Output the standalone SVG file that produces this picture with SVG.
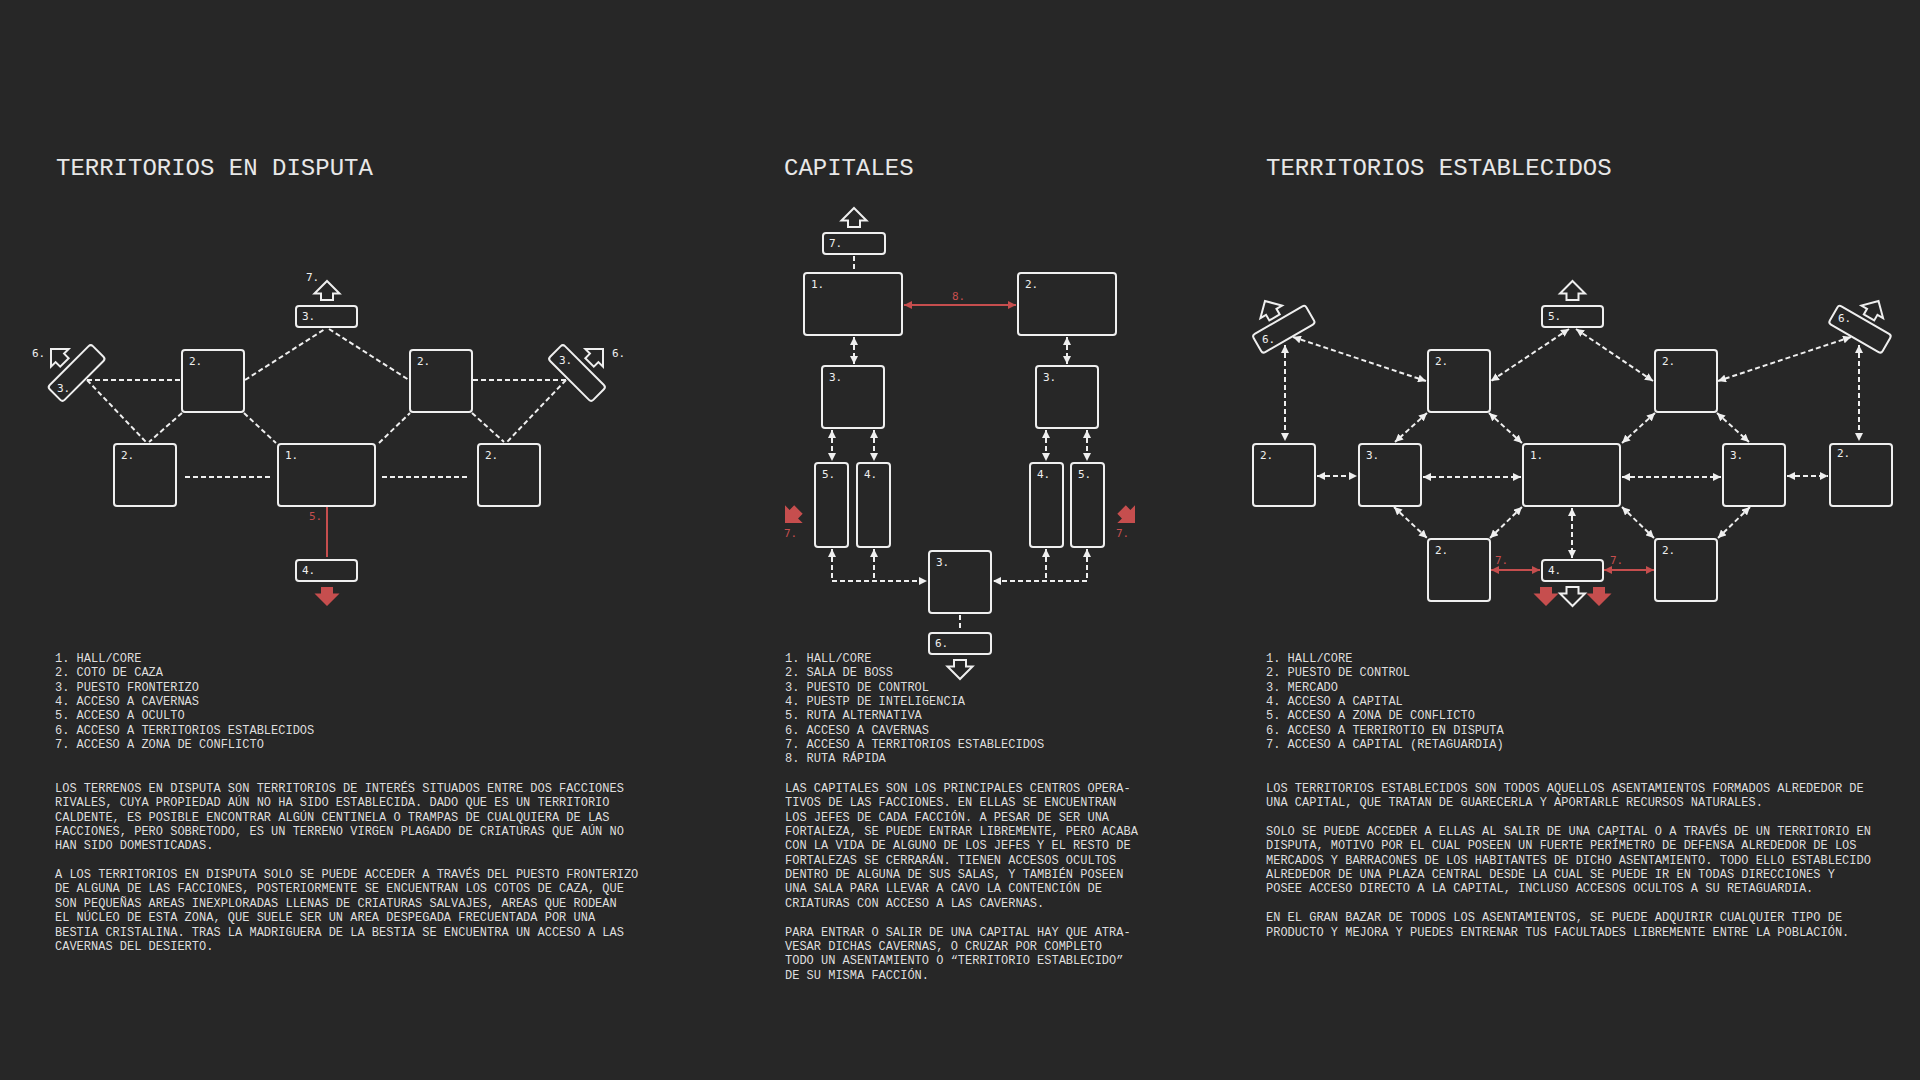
<svg xmlns="http://www.w3.org/2000/svg" xmlns:xlink="http://www.w3.org/1999/xlink" width="1920" height="1080" viewBox="0 0 1920 1080">
<style>
.bx{fill:none;stroke:#efefef;stroke-width:2}
.dl{fill:none;stroke:#efefef;stroke-width:2;stroke-dasharray:5 3}
.da{fill:none;stroke:#efefef;stroke-width:2;stroke-dasharray:5 3;marker-start:url(#ah);marker-end:url(#ah)}
.ds{fill:none;stroke:#efefef;stroke-width:2;stroke-dasharray:5 3;marker-start:url(#ah)}
.rs{fill:none;stroke:#c64e4e;stroke-width:2}
.rd{fill:none;stroke:#c64e4e;stroke-width:2;marker-start:url(#rh);marker-end:url(#rh)}
.lb{font-family:"DejaVu Sans Mono","Liberation Mono",monospace;font-size:11px;fill:#efefef}
.rl{font-family:"DejaVu Sans Mono","Liberation Mono",monospace;font-size:11px;fill:#c64e4e}
.ao{fill:#272727;stroke:#efefef;stroke-width:2}
.ar{fill:#c64e4e}
.tt{font-family:"Liberation Mono","Courier New",monospace;font-size:24px;fill:#e8e8e8}
.tx{font-family:"Liberation Mono","Courier New",monospace;font-size:12px;fill:#dedede}
</style>
<defs>
<marker id="ah" viewBox="0 0 10 10" refX="10" refY="5" markerWidth="8" markerHeight="8" markerUnits="userSpaceOnUse" orient="auto-start-reverse"><path d="M0,0 L10,5 L0,10 Z" fill="#efefef"/></marker>
<marker id="rh" viewBox="0 0 10 10" refX="10" refY="5" markerWidth="8" markerHeight="8" markerUnits="userSpaceOnUse" orient="auto-start-reverse"><path d="M0,0 L10,5 L0,10 Z" fill="#c64e4e"/></marker>
<path id="arw" d="M0,0 L12.5,12.5 L6,12.5 L6,19 L-6,19 L-6,12.5 L-12.5,12.5 Z"/>
</defs>
<rect x="0" y="0" width="1920" height="1080" fill="#272727"/>

<!-- ============ LEFT: TERRITORIOS EN DISPUTA ============ -->
<text class="tt" x="56" y="175">TERRITORIOS EN DISPUTA</text>

<g id="left-connectors">
<line class="dl" x1="87" y1="380" x2="180" y2="380"/>
<line class="dl" x1="87" y1="380" x2="146" y2="442"/>
<line class="dl" x1="182" y1="413" x2="149" y2="442"/>
<line class="dl" x1="244" y1="413" x2="276" y2="443"/>
<line class="dl" x1="245" y1="380" x2="325" y2="329"/>
<line class="dl" x1="329" y1="329" x2="409" y2="380"/>
<line class="dl" x1="379" y1="443" x2="410" y2="413"/>
<line class="dl" x1="472" y1="413" x2="504" y2="442"/>
<line class="dl" x1="566" y1="380" x2="473" y2="380"/>
<line class="dl" x1="566" y1="380" x2="507" y2="442"/>
<line class="dl" x1="185" y1="477" x2="272" y2="477"/>
<line class="dl" x1="382" y1="477" x2="469" y2="477"/>
<line class="rs" x1="327" y1="507" x2="327" y2="557"/>
<text class="rl" x="309" y="520">5.</text>
</g>

<g id="L-hall"><rect class="bx" x="278" y="444" width="97" height="62" rx="3"/><text class="lb" x="285" y="459">1.</text></g>
<g id="L-coto-bl"><rect class="bx" x="114" y="444" width="62" height="62" rx="3"/><text class="lb" x="121" y="459">2.</text></g>
<g id="L-coto-br"><rect class="bx" x="478" y="444" width="62" height="62" rx="3"/><text class="lb" x="485" y="459">2.</text></g>
<g id="L-coto-ul"><rect class="bx" x="182" y="350" width="62" height="62" rx="3"/><text class="lb" x="189" y="365">2.</text></g>
<g id="L-coto-ur"><rect class="bx" x="410" y="350" width="62" height="62" rx="3"/><text class="lb" x="417" y="365">2.</text></g>
<g id="L-puesto-top"><rect class="bx" x="296" y="306" width="61" height="21" rx="3"/><text class="lb" x="302" y="320">3.</text>
<use href="#arw" class="ao" transform="translate(327,281)"/><text class="lb" x="306" y="281">7.</text></g>
<g id="L-cavernas"><rect class="bx" x="296" y="560" width="61" height="21" rx="3"/><text class="lb" x="302" y="574">4.</text>
<use href="#arw" class="ar" transform="translate(327,606) rotate(180)"/></g>
<g id="L-puesto-left"><rect class="bx" x="-30.5" y="-10.5" width="61" height="21" rx="3" transform="translate(76.6,373) rotate(-45)"/><text class="lb" x="57" y="392">3.</text>
<use href="#arw" class="ao" transform="translate(51,349) rotate(-45)"/><text class="lb" x="32" y="357">6.</text></g>
<g id="L-puesto-right"><rect class="bx" x="-30.5" y="-10.5" width="61" height="21" rx="3" transform="translate(577,373) rotate(45)"/><text class="lb" x="559" y="364">3.</text>
<use href="#arw" class="ao" transform="translate(603,349) rotate(45)"/><text class="lb" x="612" y="357">6.</text></g>

<g id="L-legend">
<text class="tx" x="55" y="662"><tspan x="55" dy="0">1. HALL/CORE</tspan><tspan x="55" dy="14.35">2. COTO DE CAZA</tspan><tspan x="55" dy="14.35">3. PUESTO FRONTERIZO</tspan><tspan x="55" dy="14.35">4. ACCESO A CAVERNAS</tspan><tspan x="55" dy="14.35">5. ACCESO A OCULTO</tspan><tspan x="55" dy="14.35">6. ACCESO A TERRITORIOS ESTABLECIDOS</tspan><tspan x="55" dy="14.35">7. ACCESO A ZONA DE CONFLICTO</tspan></text>
<text class="tx" x="55" y="792"><tspan x="55" dy="0">LOS TERRENOS EN DISPUTA SON TERRITORIOS DE INTERÉS SITUADOS ENTRE DOS FACCIONES</tspan><tspan x="55" dy="14.35">RIVALES, CUYA PROPIEDAD AÚN NO HA SIDO ESTABLECIDA. DADO QUE ES UN TERRITORIO</tspan><tspan x="55" dy="14.35">CALDENTE, ES POSIBLE ENCONTRAR ALGÚN CENTINELA O TRAMPAS DE CUALQUIERA DE LAS</tspan><tspan x="55" dy="14.35">FACCIONES, PERO SOBRETODO, ES UN TERRENO VIRGEN PLAGADO DE CRIATURAS QUE AÚN NO</tspan><tspan x="55" dy="14.35">HAN SIDO DOMESTICADAS.</tspan><tspan x="55" dy="28.7">A LOS TERRITORIOS EN DISPUTA SOLO SE PUEDE ACCEDER A TRAVÉS DEL PUESTO FRONTERIZO</tspan><tspan x="55" dy="14.35">DE ALGUNA DE LAS FACCIONES, POSTERIORMENTE SE ENCUENTRAN LOS COTOS DE CAZA, QUE</tspan><tspan x="55" dy="14.35">SON PEQUEÑAS AREAS INEXPLORADAS LLENAS DE CRIATURAS SALVAJES, AREAS QUE RODEAN</tspan><tspan x="55" dy="14.35">EL NÚCLEO DE ESTA ZONA, QUE SUELE SER UN AREA DESPEGADA FRECUENTADA POR UNA</tspan><tspan x="55" dy="14.35">BESTIA CRISTALINA. TRAS LA MADRIGUERA DE LA BESTIA SE ENCUENTRA UN ACCESO A LAS</tspan><tspan x="55" dy="14.35">CAVERNAS DEL DESIERTO.</tspan></text>
</g>

<!-- ============ MIDDLE: CAPITALES ============ -->
<text class="tt" x="784" y="175">CAPITALES</text>

<g id="mid-connectors">
<line class="dl" x1="854" y1="256" x2="854" y2="271"/>
<line class="da" x1="854" y1="337" x2="854" y2="364"/>
<line class="da" x1="1067" y1="337" x2="1067" y2="364"/>
<line class="da" x1="832" y1="430" x2="832" y2="461"/>
<line class="da" x1="874" y1="430" x2="874" y2="461"/>
<line class="da" x1="1046" y1="430" x2="1046" y2="461"/>
<line class="da" x1="1087" y1="430" x2="1087" y2="461"/>
<path class="da" d="M832,549 V581 H927"/>
<path class="ds" d="M874,549 V581"/>
<path class="da" d="M1087,549 V581 H993"/>
<path class="ds" d="M1046,549 V581"/>
<line class="dl" x1="960" y1="615" x2="960" y2="631"/>
<line class="rd" x1="904" y1="305" x2="1016" y2="305"/>
<text class="rl" x="952" y="300">8.</text>
</g>

<g id="M-hall"><rect class="bx" x="804" y="273" width="98" height="62" rx="3"/><text class="lb" x="811" y="288">1.</text></g>
<g id="M-boss"><rect class="bx" x="1018" y="273" width="98" height="62" rx="3"/><text class="lb" x="1025" y="288">2.</text></g>
<g id="M-acceso-te"><rect class="bx" x="823" y="233" width="62" height="21" rx="3"/><text class="lb" x="829" y="247">7.</text>
<use href="#arw" class="ao" transform="translate(854,208)"/></g>
<g id="M-control-l"><rect class="bx" x="822" y="366" width="62" height="62" rx="3"/><text class="lb" x="829" y="381">3.</text></g>
<g id="M-control-r"><rect class="bx" x="1036" y="366" width="62" height="62" rx="3"/><text class="lb" x="1043" y="381">3.</text></g>
<g id="M-ruta-l"><rect class="bx" x="815" y="463" width="33" height="84" rx="3"/><text class="lb" x="822" y="478">5.</text></g>
<g id="M-intel-l"><rect class="bx" x="857" y="463" width="33" height="84" rx="3"/><text class="lb" x="864" y="478">4.</text></g>
<g id="M-intel-r"><rect class="bx" x="1030" y="463" width="33" height="84" rx="3"/><text class="lb" x="1037" y="478">4.</text></g>
<g id="M-ruta-r"><rect class="bx" x="1071" y="463" width="33" height="84" rx="3"/><text class="lb" x="1078" y="478">5.</text></g>
<g id="M-control-b"><rect class="bx" x="929" y="551" width="62" height="62" rx="3"/><text class="lb" x="936" y="566">3.</text></g>
<g id="M-cavernas"><rect class="bx" x="929" y="633" width="62" height="21" rx="3"/><text class="lb" x="935" y="647">6.</text>
<use href="#arw" class="ao" transform="translate(960,679) rotate(180)"/></g>
<g id="M-exit-l"><use href="#arw" class="ar" transform="translate(785,523) rotate(-135)"/><text class="rl" x="784" y="537">7.</text></g>
<g id="M-exit-r"><use href="#arw" class="ar" transform="translate(1135,523) rotate(135)"/><text class="rl" x="1116" y="537">7.</text></g>

<g id="M-legend">
<text class="tx" x="785" y="662"><tspan x="785" dy="0">1. HALL/CORE</tspan><tspan x="785" dy="14.35">2. SALA DE BOSS</tspan><tspan x="785" dy="14.35">3. PUESTO DE CONTROL</tspan><tspan x="785" dy="14.35">4. PUESTP DE INTELIGENCIA</tspan><tspan x="785" dy="14.35">5. RUTA ALTERNATIVA</tspan><tspan x="785" dy="14.35">6. ACCESO A CAVERNAS</tspan><tspan x="785" dy="14.35">7. ACCESO A TERRITORIOS ESTABLECIDOS</tspan><tspan x="785" dy="14.35">8. RUTA RÁPIDA</tspan></text>
<text class="tx" x="785" y="792"><tspan x="785" dy="0">LAS CAPITALES SON LOS PRINCIPALES CENTROS OPERA-</tspan><tspan x="785" dy="14.35">TIVOS DE LAS FACCIONES. EN ELLAS SE ENCUENTRAN</tspan><tspan x="785" dy="14.35">LOS JEFES DE CADA FACCIÓN. A PESAR DE SER UNA</tspan><tspan x="785" dy="14.35">FORTALEZA, SE PUEDE ENTRAR LIBREMENTE, PERO ACABA</tspan><tspan x="785" dy="14.35">CON LA VIDA DE ALGUNO DE LOS JEFES Y EL RESTO DE</tspan><tspan x="785" dy="14.35">FORTALEZAS SE CERRARÁN. TIENEN ACCESOS OCULTOS</tspan><tspan x="785" dy="14.35">DENTRO DE ALGUNA DE SUS SALAS, Y TAMBIÉN POSEEN</tspan><tspan x="785" dy="14.35">UNA SALA PARA LLEVAR A CAVO LA CONTENCIÓN DE</tspan><tspan x="785" dy="14.35">CRIATURAS CON ACCESO A LAS CAVERNAS.</tspan><tspan x="785" dy="28.7">PARA ENTRAR O SALIR DE UNA CAPITAL HAY QUE ATRA-</tspan><tspan x="785" dy="14.35">VESAR DICHAS CAVERNAS, O CRUZAR POR COMPLETO</tspan><tspan x="785" dy="14.35">TODO UN ASENTAMIENTO O “TERRITORIO ESTABLECIDO”</tspan><tspan x="785" dy="14.35">DE SU MISMA FACCIÓN.</tspan></text>
</g>

<!-- ============ RIGHT: TERRITORIOS ESTABLECIDOS ============ -->
<text class="tt" x="1266" y="175">TERRITORIOS ESTABLECIDOS</text>

<g id="right-connectors">
<line class="da" x1="1285" y1="345" x2="1285" y2="441"/>
<line class="da" x1="1293" y1="337" x2="1426" y2="381"/>
<line class="da" x1="1569" y1="329" x2="1491" y2="381"/>
<line class="da" x1="1576" y1="329" x2="1653" y2="381"/>
<line class="da" x1="1851" y1="337" x2="1718" y2="381"/>
<line class="da" x1="1859" y1="345" x2="1859" y2="441"/>
<line class="da" x1="1427" y1="413" x2="1395" y2="442"/>
<line class="da" x1="1489" y1="413" x2="1522" y2="443"/>
<line class="da" x1="1655" y1="413" x2="1622" y2="443"/>
<line class="da" x1="1717" y1="413" x2="1749" y2="442"/>
<line class="da" x1="1317" y1="476" x2="1357" y2="476"/>
<line class="da" x1="1423" y1="477" x2="1521" y2="477"/>
<line class="da" x1="1622" y1="477" x2="1721" y2="477"/>
<line class="da" x1="1787" y1="476" x2="1828" y2="476"/>
<line class="da" x1="1394" y1="507" x2="1427" y2="538"/>
<line class="da" x1="1522" y1="507" x2="1490" y2="538"/>
<line class="da" x1="1622" y1="507" x2="1654" y2="538"/>
<line class="da" x1="1750" y1="507" x2="1718" y2="538"/>
<line class="da" x1="1572" y1="508" x2="1572" y2="558"/>
<line class="rd" x1="1491" y1="570" x2="1540" y2="570"/>
<line class="rd" x1="1604" y1="570" x2="1654" y2="570"/>
<text class="rl" x="1495" y="564">7.</text>
<text class="rl" x="1610" y="564">7.</text>
</g>

<g id="R-hall"><rect class="bx" x="1523" y="444" width="97" height="62" rx="3"/><text class="lb" x="1530" y="459">1.</text></g>
<g id="R-mercado-l"><rect class="bx" x="1359" y="444" width="62" height="62" rx="3"/><text class="lb" x="1366" y="459">3.</text></g>
<g id="R-mercado-r"><rect class="bx" x="1723" y="444" width="62" height="62" rx="3"/><text class="lb" x="1730" y="459">3.</text></g>
<g id="R-control-fl"><rect class="bx" x="1253" y="444" width="62" height="62" rx="3"/><text class="lb" x="1260" y="459">2.</text></g>
<g id="R-control-fr"><rect class="bx" x="1830" y="444" width="62" height="62" rx="3"/><text class="lb" x="1837" y="457">2.</text></g>
<g id="R-control-ul"><rect class="bx" x="1428" y="350" width="62" height="62" rx="3"/><text class="lb" x="1435" y="365">2.</text></g>
<g id="R-control-ur"><rect class="bx" x="1655" y="350" width="62" height="62" rx="3"/><text class="lb" x="1662" y="365">2.</text></g>
<g id="R-control-ll"><rect class="bx" x="1428" y="539" width="62" height="62" rx="3"/><text class="lb" x="1435" y="554">2.</text></g>
<g id="R-control-lr"><rect class="bx" x="1655" y="539" width="62" height="62" rx="3"/><text class="lb" x="1662" y="554">2.</text></g>
<g id="R-zona"><rect class="bx" x="1542" y="306" width="61" height="21" rx="3"/><text class="lb" x="1548" y="320">5.</text>
<use href="#arw" class="ao" transform="translate(1572.5,281)"/></g>
<g id="R-capital"><rect class="bx" x="1542" y="560" width="61" height="21" rx="3"/><text class="lb" x="1548" y="574">4.</text>
<use href="#arw" class="ar" transform="translate(1546,606) rotate(180)"/>
<use href="#arw" class="ao" transform="translate(1572.5,606) rotate(180)"/>
<use href="#arw" class="ar" transform="translate(1599,606) rotate(180)"/></g>
<g id="R-disputa-l"><rect class="bx" x="-30.5" y="-10.5" width="61" height="21" rx="3" transform="translate(1283.8,329.2) rotate(-30)"/><text class="lb" x="1262" y="343">6.</text>
<use href="#arw" class="ao" transform="translate(1265,301) rotate(-30)"/></g>
<g id="R-disputa-r"><rect class="bx" x="-30.5" y="-10.5" width="61" height="21" rx="3" transform="translate(1860,329.2) rotate(30)"/><text class="lb" x="1838" y="322">6.</text>
<use href="#arw" class="ao" transform="translate(1878.5,301) rotate(30)"/></g>

<g id="R-legend">
<text class="tx" x="1266" y="662"><tspan x="1266" dy="0">1. HALL/CORE</tspan><tspan x="1266" dy="14.35">2. PUESTO DE CONTROL</tspan><tspan x="1266" dy="14.35">3. MERCADO</tspan><tspan x="1266" dy="14.35">4. ACCESO A CAPITAL</tspan><tspan x="1266" dy="14.35">5. ACCESO A ZONA DE CONFLICTO</tspan><tspan x="1266" dy="14.35">6. ACCESO A TERRIROTIO EN DISPUTA</tspan><tspan x="1266" dy="14.35">7. ACCESO A CAPITAL (RETAGUARDIA)</tspan></text>
<text class="tx" x="1266" y="792"><tspan x="1266" dy="0">LOS TERRITORIOS ESTABLECIDOS SON TODOS AQUELLOS ASENTAMIENTOS FORMADOS ALREDEDOR DE</tspan><tspan x="1266" dy="14.35">UNA CAPITAL, QUE TRATAN DE GUARECERLA Y APORTARLE RECURSOS NATURALES.</tspan><tspan x="1266" dy="28.7">SOLO SE PUEDE ACCEDER A ELLAS AL SALIR DE UNA CAPITAL O A TRAVÉS DE UN TERRITORIO EN</tspan><tspan x="1266" dy="14.35">DISPUTA, MOTIVO POR EL CUAL POSEEN UN FUERTE PERÍMETRO DE DEFENSA ALREDEDOR DE LOS</tspan><tspan x="1266" dy="14.35">MERCADOS Y BARRACONES DE LOS HABITANTES DE DICHO ASENTAMIENTO. TODO ELLO ESTABLECIDO</tspan><tspan x="1266" dy="14.35">ALREDEDOR DE UNA PLAZA CENTRAL DESDE LA CUAL SE PUEDE IR EN TODAS DIRECCIONES Y</tspan><tspan x="1266" dy="14.35">POSEE ACCESO DIRECTO A LA CAPITAL, INCLUSO ACCESOS OCULTOS A SU RETAGUARDIA.</tspan><tspan x="1266" dy="28.7">EN EL GRAN BAZAR DE TODOS LOS ASENTAMIENTOS, SE PUEDE ADQUIRIR CUALQUIER TIPO DE</tspan><tspan x="1266" dy="14.35">PRODUCTO Y MEJORA Y PUEDES ENTRENAR TUS FACULTADES LIBREMENTE ENTRE LA POBLACIÓN.</tspan></text>
</g>
</svg>
